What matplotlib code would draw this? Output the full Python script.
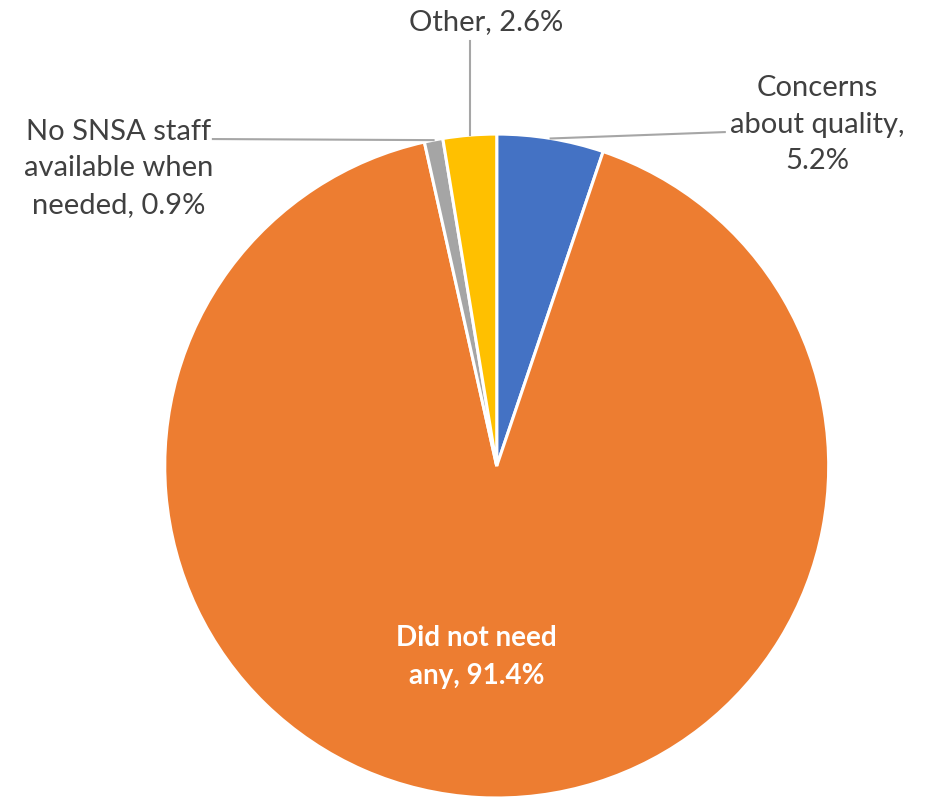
import numpy as np
import matplotlib.pyplot as plt

# data
labels = ['Concerns\nabout quality,\n5.2%', 'Did not need\nany, 91.4%',
          'No SNSA staff\navailable when\nneeded, 0.9%', 'Other, 2.6%']
values = [5.2, 91.4, 0.9, 2.6]
colors = ['#4472C4', '#ED7D31', '#A5A5A5', '#FFC000']

plt.rcParams['font.family'] = ['Lato', 'DejaVu Sans']

fig = plt.figure(figsize=(9.25, 7.98), dpi=100)
ax = fig.add_axes([0.178, 0.0, 0.718, 0.832])
ax.pie(values, colors=colors, startangle=90, counterclock=False,
       wedgeprops=dict(edgecolor='white', linewidth=2.2))
ax.set_xlim(-1, 1)
ax.set_ylim(-1, 1)
ax.set_aspect('equal')
ax.axis('off')

# slice mid angles (clockwise from the top)
frac = np.array(values) / np.sum(values)
ends = np.cumsum(frac)
mids = 90 - 360 * (ends - frac / 2)
def edge(i):
    a = np.radians(mids[i])
    return np.cos(a), np.sin(a)

txt = dict(color='#404040', fontsize=21, ha='center', va='center', linespacing=1.5)
lc = '#A6A6A6'

# Concerns about quality
x0, y0 = edge(0)
ax.plot([x0, 0.687], [y0, 1.006], color=lc, lw=1.5, clip_on=False)
ax.text(0.967, 1.028, labels[0], **txt)

# Other
x0, y0 = edge(3)
ax.plot([x0, x0], [y0, 1.28], color=lc, lw=1.5, clip_on=False)
ax.text(-0.033, 1.337, labels[3], **txt)

# No SNSA staff
x0, y0 = edge(2)
ax.plot([x0, -0.855], [y0, 0.985], color=lc, lw=1.5, clip_on=False)
ax.text(-1.14, 0.8976, labels[2], **txt)

# Did not need any
ax.text(-0.06, -0.575, labels[1], color='white', fontsize=20, fontweight='bold',
        ha='center', va='center', linespacing=1.6)

fig.savefig('out.png', dpi=100)
